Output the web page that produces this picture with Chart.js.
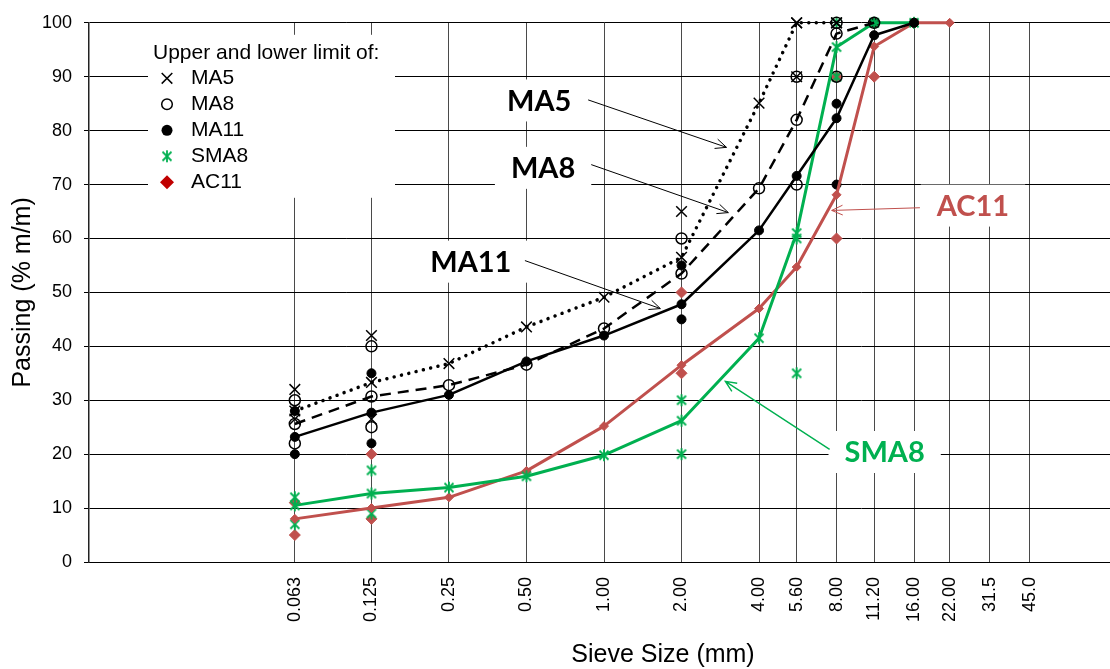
<!DOCTYPE html>
<html><head><meta charset="utf-8">
<script src="https://cdn.jsdelivr.net/npm/chart.js@4/dist/chart.umd.min.js"></script>
<style>html,body{margin:0;padding:0;overflow:hidden;background:#fff}</style>
</head><body>
<canvas id="c" width="1128" height="669"></canvas>
<script>
// ---- data ----
const sieveSizes = [0.063, 0.125, 0.25, 0.5, 1, 2, 4, 5.6, 8, 11.2, 16, 22, 31.5, 45];
const tickLabels = ["0.063", "0.125", "0.25", "0.50", "1.00", "2.00", "4.00", "5.60", "8.00", "11.20", "16.00", "22.00", "31.5", "45.0"];

// grading curves (passing %, aligned with sieveSizes)
const ma5Curve  = [28, 33.3, 36.8, 43.6, 49.1, 56.5, 85.1, 100, 100, null, null, null, null, null];
const ma8Curve  = [25.6, 30.7, 32.8, 36.6, 43.3, 53.5, 69.3, 82, 98, 100, null, null, null, null];
const ma11Curve = [23.2, 27.7, 31.0, 37.2, 42.0, 47.8, 61.5, 71.6, 82.3, 97.7, 100, null, null, null];
const sma8Curve = [10.5, 12.7, 13.8, 15.9, 19.8, 26.2, 41.5, 61, 95.5, 100, 100, null, null, null];
const ac11Curve = [8, 10, 12, 16.9, 25.2, 36.5, 47, 54.7, 68.1, 95.6, 100, 100, null, null];

// upper and lower limits
const ma5Upper  = [32, 42, null, null, null, 65, null, 100, 100, null, null, null, null, null];
const ma5Lower  = [26.5, 26.5, null, null, null, null, null, 90, null, null, null, null, null, null];
const ma8Upper  = [30, 40, null, null, null, 60, null, 90, 100, null, null, null, null, null];
const ma8Lower  = [22, 25, null, null, null, null, null, 70, 90, null, null, null, null, null];
const ma11Upper = [28, 35, null, null, null, 55, null, null, 85, 100, 100, null, null, null];
const ma11Lower = [20, 22, null, null, null, 45, null, null, 70, null, null, null, null, null];
const sma8Upper = [12, 17, null, null, null, 30, null, 60, 100, 100, null, null, null, null];
const sma8Lower = [7, 9, null, null, null, 20, null, 35, 90, null, null, null, null, null];
const ac11Upper = [11, 20, null, null, null, 50, null, null, 90, 100, 100, null, null, null];
const ac11Lower = [5, 8, null, null, null, 35, null, null, 60, 90, null, null, null, null];

// callout labels and arrows (in data coordinates: sieve size, passing %)
const calloutText  = ["MA5", "MA8", "MA11", "AC11", "SMA8"];
const calloutX     = [0.56, 0.58, 0.304, 27.1, 12.3];
const calloutY     = [85.6, 73.1, 55.7, 66.1, 20.4];
const arrowFromX   = [0.868, 0.892, 0.493, 16.86, 7.52];
const arrowFromY   = [85.7, 73.7, 55.9, 65.7, 20.9];
const arrowToX     = [2.99, 3.04, 1.655, 7.66, 2.96];
const arrowToY     = [76.9, 64.8, 47.0, 65.2, 33.5];

const legendTitle = "Upper and lower limit of:";
const legendNames = ["MA5", "MA8", "MA11", "SMA8", "AC11"];

// ---- styles ----
const BLACK = '#000', GREEN = '#00b050', RED = '#c0504d', DARKRED = '#c00000';
const calloutColors = [BLACK, BLACK, BLACK, RED, GREEN];
const arrowColors = [BLACK, BLACK, BLACK, RED, GREEN];

function starImage(color) {
  const c = document.createElement('canvas');
  c.width = 16; c.height = 16;
  const g = c.getContext('2d');
  g.strokeStyle = color; g.lineWidth = 1.8;
  g.beginPath();
  g.moveTo(3.5, 3.5); g.lineTo(12.5, 12.5);
  g.moveTo(12.5, 3.5); g.lineTo(3.5, 12.5);
  g.moveTo(8, 2); g.lineTo(8, 14);
  g.stroke();
  return c;
}
const greenStar = starImage(GREEN);

const toPts = arr => sieveSizes.map((s, i) => arr[i] == null ? null : {x: s, y: arr[i]}).filter(Boolean);
const limPts = (up, lo) => toPts(up).concat(toPts(lo));

const curve = (data, color, width, dash, style, radius, fill, pbw) => ({
  data: toPts(data), showLine: true, borderColor: color, borderWidth: width, borderDash: dash,
  borderCapStyle: dash.length && dash[0] < 1 ? 'round' : 'butt', borderJoinStyle: 'round',
  pointStyle: style, pointRadius: radius, pointBackgroundColor: fill, pointBorderColor: color,
  pointBorderWidth: pbw, tension: 0, clip: false, order: 1
});
const limits = (data, color, style, radius, fill, pbw) => ({
  data: data, showLine: false, pointStyle: style, pointRadius: radius,
  pointBackgroundColor: fill, pointBorderColor: color, pointBorderWidth: pbw, clip: false, order: 2
});

const datasets = [
  curve(ma5Curve, BLACK, 3.5, [0.01, 7.5], 'crossRot', 7.5, 'rgba(0,0,0,0)', 1.5),
  curve(ma8Curve, BLACK, 2.5, [11, 7], 'circle', 5.5, 'rgba(0,0,0,0)', 1.5),
  curve(ma11Curve, BLACK, 2.5, [], 'circle', 4.5, BLACK, 1),
  curve(sma8Curve, GREEN, 3, [], greenStar, 7, GREEN, 1),
  curve(ac11Curve, RED, 3, [], 'rectRot', 4.5, RED, 1),
  limits(limPts(ma5Upper, ma5Lower), BLACK, 'crossRot', 7.5, 'rgba(0,0,0,0)', 1.5),
  limits(limPts(ma8Upper, ma8Lower), BLACK, 'circle', 5.5, 'rgba(0,0,0,0)', 1.5),
  limits(limPts(ma11Upper, ma11Lower), BLACK, 'circle', 4.5, BLACK, 1),
  limits(limPts(sma8Upper, sma8Lower), GREEN, greenStar, 7, GREEN, 1),
  limits(limPts(ac11Upper, ac11Lower), RED, 'rectRot', 5.5, RED, 1)
];

function drawMark(ctx, kind, x, y) {
  ctx.save();
  ctx.beginPath();
  if (kind === 0) { // x
    ctx.strokeStyle = BLACK; ctx.lineWidth = 1.5; const d = 5.3;
    ctx.moveTo(x - d, y - d); ctx.lineTo(x + d, y + d); ctx.moveTo(x + d, y - d); ctx.lineTo(x - d, y + d); ctx.stroke();
  } else if (kind === 1) {
    ctx.strokeStyle = BLACK; ctx.lineWidth = 1.5; ctx.arc(x, y, 5.3, 0, Math.PI * 2); ctx.stroke();
  } else if (kind === 2) {
    ctx.fillStyle = BLACK; ctx.arc(x, y, 5.5, 0, Math.PI * 2); ctx.fill();
  } else if (kind === 3) {
    ctx.drawImage(greenStar, x - 8, y - 8);
  } else {
    ctx.fillStyle = DARKRED; const d = 7;
    ctx.moveTo(x - d, y); ctx.lineTo(x, y - d); ctx.lineTo(x + d, y); ctx.lineTo(x, y + d); ctx.closePath(); ctx.fill();
  }
  ctx.restore();
}

function arrow(ctx, x0, y0, x1, y1, color, lw) {
  ctx.save();
  ctx.strokeStyle = color; ctx.lineWidth = lw;
  ctx.beginPath(); ctx.moveTo(x0, y0); ctx.lineTo(x1, y1);
  const a = Math.atan2(y1 - y0, x1 - x0), L = 12, sp = 0.42;
  ctx.moveTo(x1 - L * Math.cos(a - sp), y1 - L * Math.sin(a - sp));
  ctx.lineTo(x1, y1);
  ctx.lineTo(x1 - L * Math.cos(a + sp), y1 - L * Math.sin(a + sp));
  ctx.stroke();
  ctx.restore();
}

const overlay = {
  id: 'overlay',
  beforeDatasetsDraw(chart) {
    const {ctx, chartArea: a, scales: {x, y}} = chart;
    ctx.save();
    ctx.fillStyle = '#fff';
    ctx.fillRect(a.left + 59, a.top + 12, 247, 163);
    ctx.font = 'bold 29px Lato';
    ctx.textAlign = 'center'; ctx.textBaseline = 'middle';
    calloutText.forEach((t, i) => {
      const px = x.getPixelForValue(calloutX[i]), py = y.getPixelForValue(calloutY[i]);
      const w = ctx.measureText(t).width + 32;
      ctx.fillStyle = '#fff';
      ctx.fillRect(px - w / 2, py - 21, w, 42);
      ctx.fillStyle = calloutColors[i];
      ctx.fillText(t, px, py + 1);
    });
    ctx.restore();
  },
  afterDatasetsDraw(chart) {
    const {ctx, chartArea: a, scales: {x, y}} = chart;
    calloutText.forEach((t, i) => {
      arrow(ctx, x.getPixelForValue(arrowFromX[i]), y.getPixelForValue(arrowFromY[i]),
            x.getPixelForValue(arrowToX[i]), y.getPixelForValue(arrowToY[i]),
            arrowColors[i], i === 4 ? 1.4 : 1);
    });
    // legend
    ctx.save();
    ctx.font = '21px "Liberation Sans"';
    ctx.fillStyle = BLACK; ctx.textAlign = 'left'; ctx.textBaseline = 'middle';
    const lx = a.left + 64, ly = a.top + 30;
    ctx.fillText(legendTitle, lx, ly);
    legendNames.forEach((n, i) => {
      const yy = ly + 25.5 + i * 26;
      drawMark(ctx, i, lx + 14, yy);
      ctx.fillStyle = BLACK;
      ctx.fillText(n, lx + 38, yy);
    });
    // x axis title
    ctx.font = '25px "Liberation Sans"';
    ctx.textAlign = 'center';
    ctx.fillText('Sieve Size (mm)', 663, 655);
    ctx.restore();
  }
};

new Chart(document.getElementById('c'), {
  type: 'scatter',
  data: { datasets },
  plugins: [overlay],
  options: {
    responsive: false, devicePixelRatio: 1, animation: false, events: [],
    layout: { padding: { top: 22, right: 1, left: 0, bottom: 0 } },
    plugins: { legend: { display: false }, tooltip: { enabled: false } },
    scales: {
      x: {
        type: 'logarithmic', min: 0.01, max: 100,
        afterBuildTicks: s => { s.ticks = sieveSizes.map(v => ({ value: v })); },
        afterFit: s => { s.height = 107; s.paddingRight = 0; s.paddingLeft = 0; },
        ticks: { autoSkip: false, minRotation: 90, maxRotation: 90, padding: 15, color: BLACK,
                 font: { family: 'Liberation Sans', size: 18 }, callback: (v, i) => tickLabels[i] },
        grid: { color: '#4a4a4a', lineWidth: 1, drawTicks: false },
        border: { display: true, color: BLACK, width: 1 }
      },
      y: {
        min: 0, max: 100,
        afterFit: s => { s.width = 89; },
        ticks: { stepSize: 10, padding: 12, color: BLACK, font: { family: 'Liberation Sans', size: 18 } },
        grid: { color: BLACK, lineWidth: 1, tickLength: 5 },
        border: { display: true, color: '#222', width: 1.5 },
        title: { display: true, text: 'Passing (% m/m)', color: BLACK,
                 font: { family: 'Liberation Sans', size: 25 }, padding: { top: 8, bottom: 0 } }
      }
    }
  }
});
</script>
</body></html>
